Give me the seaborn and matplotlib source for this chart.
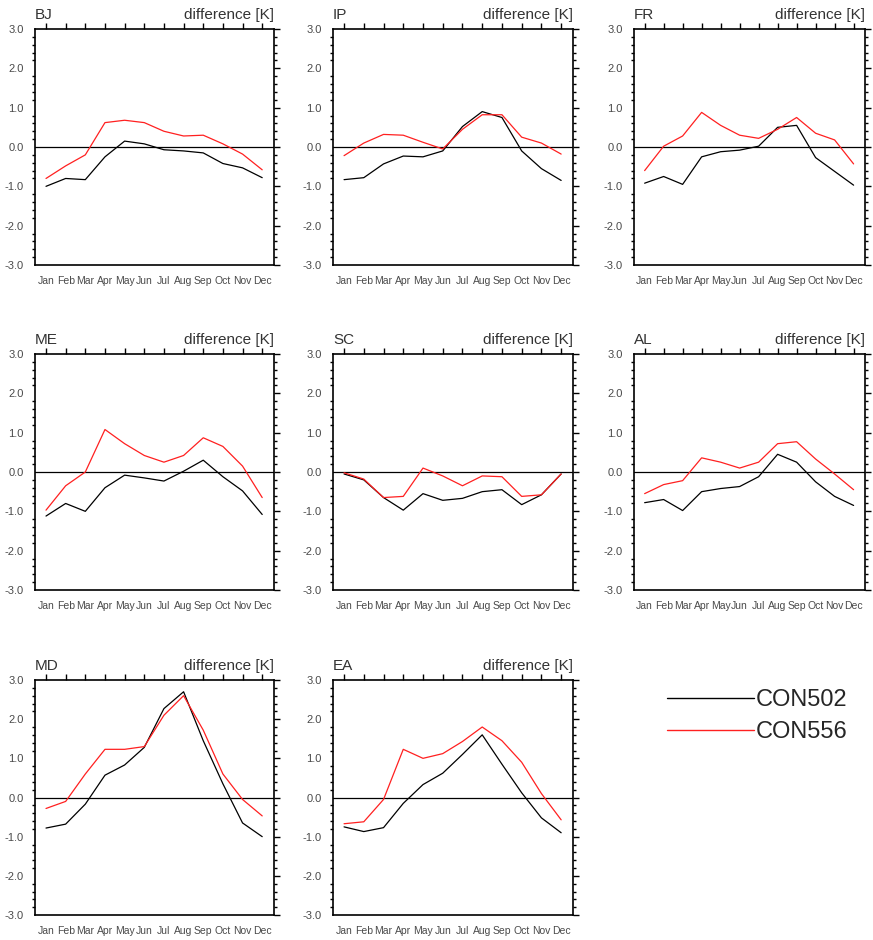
import numpy as np
import pandas as pd
import matplotlib
matplotlib.use("Agg")
import matplotlib.pyplot as plt
from matplotlib.lines import Line2D
from matplotlib.ticker import MultipleLocator, FixedLocator
import seaborn as sns

sns.set_theme(style="white")
plt.rcParams['font.family'] = ['Liberation Sans', 'DejaVu Sans']

months = ['Jan', 'Feb', 'Mar', 'Apr', 'May', 'Jun', 'Jul', 'Aug', 'Sep', 'Oct', 'Nov', 'Dec']
regions = ['BJ', 'IP', 'FR', 'ME', 'SC', 'AL', 'MD', 'EA']
runs = ['CON502', 'CON556']

# monthly temperature difference [K], one list per region and run
bj_502 = [-1.0, -0.8, -0.83, -0.25, 0.15, 0.08, -0.07, -0.1, -0.15, -0.42, -0.53, -0.78]
bj_556 = [-0.8, -0.48, -0.2, 0.62, 0.68, 0.62, 0.4, 0.28, 0.3, 0.08, -0.18, -0.58]
ip_502 = [-0.83, -0.78, -0.43, -0.23, -0.25, -0.1, 0.52, 0.9, 0.75, -0.1, -0.55, -0.85]
ip_556 = [-0.22, 0.1, 0.32, 0.3, 0.12, -0.05, 0.45, 0.82, 0.82, 0.25, 0.1, -0.18]
fr_502 = [-0.92, -0.75, -0.95, -0.25, -0.12, -0.08, 0.02, 0.5, 0.55, -0.27, -0.62, -0.97]
fr_556 = [-0.6, 0.02, 0.28, 0.88, 0.55, 0.3, 0.22, 0.45, 0.75, 0.35, 0.18, -0.43]
me_502 = [-1.12, -0.8, -1.0, -0.4, -0.08, -0.15, -0.23, 0.02, 0.3, -0.12, -0.48, -1.08]
me_556 = [-0.97, -0.35, 0.0, 1.08, 0.72, 0.42, 0.25, 0.42, 0.87, 0.65, 0.15, -0.65]
sc_502 = [-0.05, -0.2, -0.65, -0.97, -0.55, -0.72, -0.67, -0.5, -0.45, -0.83, -0.58, -0.05]
sc_556 = [-0.02, -0.18, -0.65, -0.62, 0.1, -0.1, -0.35, -0.1, -0.12, -0.62, -0.58, -0.05]
al_502 = [-0.78, -0.7, -0.98, -0.5, -0.42, -0.37, -0.12, 0.45, 0.25, -0.25, -0.62, -0.85]
al_556 = [-0.55, -0.32, -0.22, 0.36, 0.25, 0.1, 0.25, 0.72, 0.77, 0.33, -0.05, -0.45]
md_502 = [-0.78, -0.68, -0.17, 0.57, 0.83, 1.28, 2.27, 2.7, 1.45, 0.35, -0.65, -1.0]
md_556 = [-0.28, -0.1, 0.6, 1.23, 1.23, 1.3, 2.1, 2.6, 1.72, 0.6, -0.05, -0.47]
ea_502 = [-0.75, -0.87, -0.77, -0.15, 0.33, 0.62, 1.1, 1.6, 0.85, 0.12, -0.52, -0.9]
ea_556 = [-0.67, -0.62, -0.05, 1.23, 1.0, 1.12, 1.43, 1.8, 1.45, 0.9, 0.1, -0.57]

series = {
    'BJ': (bj_502, bj_556), 'IP': (ip_502, ip_556), 'FR': (fr_502, fr_556),
    'ME': (me_502, me_556), 'SC': (sc_502, sc_556), 'AL': (al_502, al_556),
    'MD': (md_502, md_556), 'EA': (ea_502, ea_556),
}

# long table for seaborn
rows = []
for reg in regions:
    for run, vals in zip(runs, series[reg]):
        for i, v in enumerate(vals):
            rows.append({'region': reg, 'run': run, 'month': i, 'diff': v})
df = pd.DataFrame(rows)

palette = {'CON502': 'black', 'CON556': '#ff2020'}

fig = plt.figure(figsize=(8.73, 9.40), dpi=100)

# axes boxes in pixels (left, right, top, bottom)
cols = [(35, 274), (333, 573), (634, 865)]
rws = [(29, 265), (354, 590), (680, 915)]
W, H = 873.0, 940.0

tick_col = '#4a4a4a'
for k, reg in enumerate(regions):
    r, c = divmod(k, 3)
    x0, x1 = cols[c]
    y0, y1 = rws[r]
    ax = fig.add_axes([x0 / W, 1 - y1 / H, (x1 - x0) / W, (y1 - y0) / H])
    sub = df[df['region'] == reg]
    sns.lineplot(data=sub, x='month', y='diff', hue='run', palette=palette,
                 hue_order=runs, linewidth=0.9, legend=False, ax=ax)
    ax.axhline(0, color='black', linewidth=0.9, zorder=1)
    ax.set_xlim(-0.56, 11.6)
    ax.set_ylim(-3, 3)
    ax.set_xlabel('')
    ax.set_ylabel('')
    ax.xaxis.set_major_locator(FixedLocator(range(12)))
    ax.set_xticklabels(months)
    ax.yaxis.set_major_locator(MultipleLocator(1))
    ax.yaxis.set_minor_locator(MultipleLocator(0.2))
    ax.set_yticklabels(['%.1f' % t for t in ax.get_yticks()])
    ax.tick_params(axis='both', which='both', direction='out', colors='black',
                   labelcolor=tick_col, labelsize=7.5, width=1.0)
    ax.tick_params(axis='y', labelsize=8)
    ax.tick_params(axis='both', which='major', length=4.5, pad=3.5)
    ax.tick_params(axis='y', which='minor', length=2.5)
    ax.tick_params(top=True, right=True, labeltop=False, labelright=False)
    ax.tick_params(axis='y', which='minor', left=True, right=True)
    for s in ax.spines.values():
        s.set_visible(True)
        s.set_color('black')
        s.set_linewidth(1.2)
    ax.set_title(reg, loc='left', fontsize=11, color='#333333', pad=7)
    ax.set_title('difference [K]', loc='right', fontsize=11, color='#333333', pad=7)

handles = [Line2D([], [], color=palette[r], linewidth=1.0) for r in runs]
fig.legend(handles, runs, loc='upper left', bbox_to_anchor=(655 / W, 1 - 677 / H),
           frameon=False, fontsize=17, handlelength=3.7, handletextpad=0.05,
           labelspacing=0.45, borderpad=0)

fig.savefig('out.png', dpi=100)
